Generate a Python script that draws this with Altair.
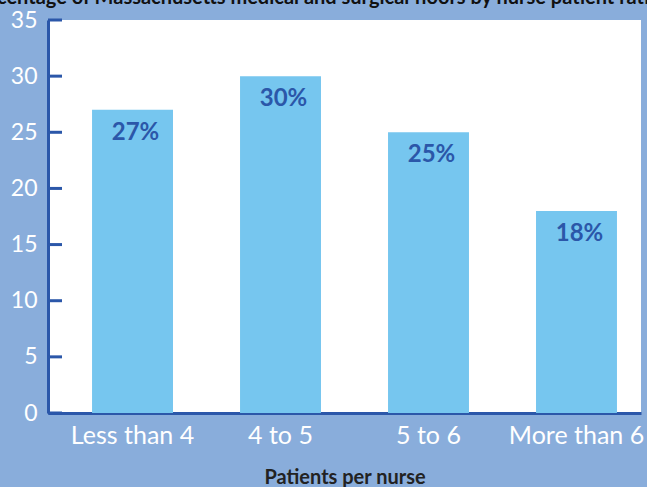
import altair as alt
import pandas as pd

categories = ["Less than 4", "4 to 5", "5 to 6", "More than 6"]
values = [27, 30, 25, 18]
labels = ["27%", "30%", "25%", "18%"]
y_ticks = [0, 5, 10, 15, 20, 25, 30, 35]
title_text = "Percentage of Massachusetts medical and surgical floors by nurse patient ratio"

df = pd.DataFrame({"cat": categories, "val": values, "lab": labels})
ticks_df = pd.DataFrame({"t": y_ticks})

BG = "#89addb"
BAR = "#76c6ef"
DARK = "#2b57a9"
FONT = "Lato"

x_scale = alt.Scale(paddingInner=0.453, paddingOuter=0.23, align=0.647)
y_scale = alt.Scale(domain=[0, 35], nice=False)

bars = alt.Chart(df).mark_bar(color=BAR).encode(
    x=alt.X("cat:N", sort=categories, scale=x_scale,
            axis=alt.Axis(title="Patients per nurse", labelAngle=0, ticks=False,
                          domainColor=DARK, domainWidth=3,
                          labelColor="white", labelFontSize=25, labelFont=FONT,
                          labelPadding=10, titleColor="#222222", titleFontSize=20,
                          titleFont=FONT, titleFontWeight="bold", titlePadding=19)),
    y=alt.Y("val:Q", scale=y_scale,
            axis=alt.Axis(title=None, values=y_ticks, ticks=False, grid=False,
                          domainColor=DARK, domainWidth=3,
                          labelColor="white", labelFontSize=23, labelFont=FONT,
                          labelPadding=11)),
)

text = alt.Chart(df).mark_text(color=DARK, fontSize=24, fontWeight="bold", font=FONT,
                               baseline="middle", dy=23, dx=3).encode(
    x=alt.X("cat:N", sort=categories, scale=x_scale),
    y=alt.Y("val:Q", scale=y_scale),
    text="lab:N",
)

tick_rules = alt.Chart(ticks_df).mark_rule(color=DARK, strokeWidth=3).encode(
    x=alt.value(0), x2=alt.value(14),
    y=alt.Y("t:Q", scale=y_scale),
)

title_df = pd.DataFrame({"t": [title_text]})
title = alt.Chart(title_df).mark_text(color="#111111", fontSize=20, fontWeight="bold",
                                      font=FONT, align="center", baseline="alphabetic").encode(
    x=alt.value(266), y=alt.value(-16), text="t:N"
)

chart = alt.layer(bars, text, tick_rules, title).properties(
    width=593, height=393,
    background=BG,
    padding={"left": 48, "top": 20, "right": 6, "bottom": 74},
    autosize=alt.AutoSizeParams(type="none"),
).configure_view(fill="white", stroke=None)

chart.save("out.html", embed_options={"renderer": "svg", "actions": False})
